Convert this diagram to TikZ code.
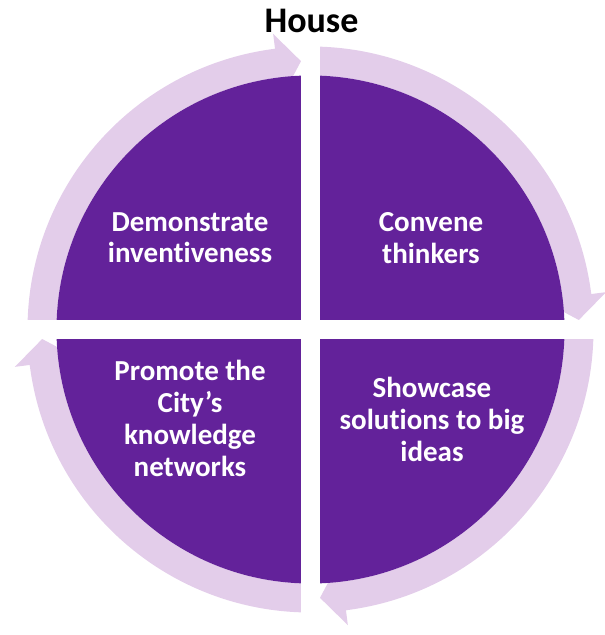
\documentclass[tikz,border=0pt]{standalone}
\usepackage{fontspec}
\setmainfont{Carlito}[Ligatures=NoCommon]
\definecolor{quadpurple}{HTML}{63229A}
\definecolor{ringlilac}{HTML}{E3CDEA}
\tikzset{
  ringarrow/.style={fill=ringlilac, draw=none},
  quadlabel/.style={text=white, font=\bfseries\fontsize{29}{32}\selectfont, anchor=base, inner sep=0pt},
  gapbar/.style={fill=white, draw=none}
}
\newcommand{\cyclearrow}{%
  \fill[ringarrow] (180:283pt) arc[start angle=180, end angle=97.2, radius=283pt]
    -- (97.2:298pt) -- (92.03:268.5pt) -- (97.2:233pt) -- (97.2:254pt)
    arc[start angle=97.2, end angle=180, radius=254pt] -- cycle;}
\begin{document}
\begin{tikzpicture}[x=1pt,y=1pt]
\useasboundingbox (-310.5,-305.5) rectangle (294.5,329.5);
\coordinate (ctr) at (0,0);
% ring arrows
\begin{scope}[rotate=0]\cyclearrow\end{scope}
\begin{scope}[rotate=-90]\cyclearrow\end{scope}
\begin{scope}[rotate=-180]\cyclearrow\end{scope}
\begin{scope}[rotate=-270]\cyclearrow\end{scope}
% purple disk
\fill[quadpurple] (ctr) circle[radius=254pt];
% gaps
\fill[gapbar] (-9.5,-300) rectangle (9.5,300);
\fill[gapbar] (-300,-9.5) rectangle (300,9.5);
% labels
\node[quadlabel] (tl) at (-120.5,98.5) {\begin{tabular}[t]{@{}c@{}}Demonstrate\\inventiveness\end{tabular}};
\node[quadlabel] (tr) at (120.5,97.5) {\begin{tabular}[t]{@{}c@{}}Convene\\thinkers\end{tabular}};
\node[quadlabel] (br) at (121.5,-67.5) {\begin{tabular}[t]{@{}c@{}}Showcase\\solutions to big\\ideas\end{tabular}};
\node[quadlabel] (bl) at (-120.5,-50.5) {\begin{tabular}[t]{@{}c@{}}Promote the\\City’s\\knowledge\\networks\end{tabular}};
% title
\node[anchor=base, inner sep=0pt, font=\bfseries\fontsize{36}{40}\selectfont] (title) at (1,296.5) {House};
\end{tikzpicture}
\end{document}
